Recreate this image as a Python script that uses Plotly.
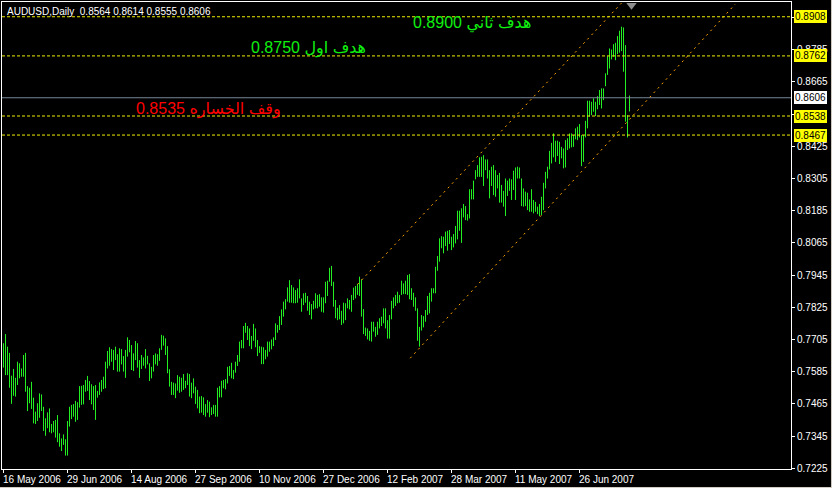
import plotly.graph_objects as go

# ---------------- data ----------------
bar_high = [
    0.7691, 0.7725, 0.7678, 0.7655, 0.7570, 0.7595, 0.7562, 0.7622, 0.7616, 0.7597,
    0.7647, 0.7655, 0.7531, 0.7525, 0.7547, 0.7488, 0.7436, 0.7467, 0.7504, 0.7500,
    0.7454, 0.7411, 0.7433, 0.7448, 0.7390, 0.7401, 0.7405, 0.7423, 0.7355, 0.7336,
    0.7351, 0.7333, 0.7401, 0.7454, 0.7461, 0.7464, 0.7476, 0.7471, 0.7531, 0.7532,
    0.7535, 0.7554, 0.7569, 0.7550, 0.7538, 0.7531, 0.7535, 0.7513, 0.7545, 0.7554,
    0.7566, 0.7622, 0.7662, 0.7676, 0.7669, 0.7666, 0.7678, 0.7650, 0.7672, 0.7669,
    0.7643, 0.7666, 0.7713, 0.7703, 0.7684, 0.7653, 0.7699, 0.7691, 0.7628, 0.7647,
    0.7638, 0.7669, 0.7644, 0.7616, 0.7603, 0.7647, 0.7653, 0.7650, 0.7672, 0.7722,
    0.7719, 0.7709, 0.7680, 0.7594, 0.7547, 0.7544, 0.7541, 0.7572, 0.7566, 0.7562,
    0.7576, 0.7551, 0.7579, 0.7576, 0.7544, 0.7560, 0.7529, 0.7517, 0.7492, 0.7494,
    0.7489, 0.7464, 0.7479, 0.7473, 0.7452, 0.7461, 0.7461, 0.7525, 0.7531, 0.7551,
    0.7554, 0.7557, 0.7603, 0.7606, 0.7618, 0.7591, 0.7622, 0.7647, 0.7697, 0.7703,
    0.7755, 0.7767, 0.7755, 0.7746, 0.7718, 0.7763, 0.7746, 0.7703, 0.7680, 0.7678,
    0.7676, 0.7666, 0.7697, 0.7697, 0.7705, 0.7713, 0.7765, 0.7759, 0.7792, 0.7817,
    0.7846, 0.7855, 0.7899, 0.7926, 0.7908, 0.7899, 0.7889, 0.7896, 0.7929, 0.7858,
    0.7877, 0.7879, 0.7867, 0.7846, 0.7837, 0.7849, 0.7877, 0.7871, 0.7874, 0.7862,
    0.7862, 0.7920, 0.7924, 0.7972, 0.7979, 0.7920, 0.7852, 0.7823, 0.7833, 0.7812,
    0.7842, 0.7840, 0.7858, 0.7852, 0.7871, 0.7898, 0.7904, 0.7912, 0.7939, 0.7929,
    0.7818, 0.7749, 0.7746, 0.7737, 0.7771, 0.7771, 0.7752, 0.7771, 0.7784, 0.7790,
    0.7821, 0.7821, 0.7777, 0.7796, 0.7849, 0.7862, 0.7871, 0.7883, 0.7871, 0.7924,
    0.7914, 0.7924, 0.7945, 0.7949, 0.7896, 0.7879, 0.7862, 0.7821, 0.7752, 0.7796,
    0.7792, 0.7815, 0.7867, 0.7879, 0.7896, 0.7896, 0.7976, 0.8016, 0.8082, 0.8090,
    0.8088, 0.8107, 0.8110, 0.8113, 0.8088, 0.8098, 0.8128, 0.8185, 0.8185, 0.8194,
    0.8210, 0.8202, 0.8172, 0.8265, 0.8265, 0.8297, 0.8336, 0.8355, 0.8384, 0.8386,
    0.8392, 0.8376, 0.8376, 0.8336, 0.8349, 0.8355, 0.8336, 0.8318, 0.8326, 0.8281,
    0.8259, 0.8305, 0.8297, 0.8305, 0.8302, 0.8334, 0.8346, 0.8349, 0.8346, 0.8305,
    0.8268, 0.8256, 0.8252, 0.8227, 0.8265, 0.8225, 0.8218, 0.8200, 0.8210, 0.8237,
    0.8289, 0.8330, 0.8349, 0.8408, 0.8438, 0.8473, 0.8446, 0.8446, 0.8442, 0.8423,
    0.8417, 0.8448, 0.8455, 0.8473, 0.8473, 0.8467, 0.8492, 0.8498, 0.8508, 0.8467,
    0.8467, 0.8520, 0.8595, 0.8595, 0.8591, 0.8604, 0.8591, 0.8612, 0.8635, 0.8641,
    0.8641, 0.8697, 0.8761, 0.8790, 0.8786, 0.8806, 0.8811, 0.8836, 0.8856, 0.8871,
    0.8868, 0.8802, 0.8541, 0.8614,
]
bar_low = [
    0.7600, 0.7572, 0.7572, 0.7525, 0.7465, 0.7495, 0.7492, 0.7535, 0.7560, 0.7566,
    0.7566, 0.7510, 0.7438, 0.7467, 0.7446, 0.7392, 0.7390, 0.7401, 0.7413, 0.7438,
    0.7364, 0.7346, 0.7374, 0.7359, 0.7355, 0.7359, 0.7339, 0.7322, 0.7305, 0.7289,
    0.7312, 0.7272, 0.7272, 0.7380, 0.7408, 0.7417, 0.7398, 0.7405, 0.7451, 0.7461,
    0.7463, 0.7510, 0.7513, 0.7479, 0.7463, 0.7442, 0.7405, 0.7488, 0.7498, 0.7510,
    0.7520, 0.7523, 0.7597, 0.7607, 0.7622, 0.7591, 0.7628, 0.7585, 0.7585, 0.7612,
    0.7585, 0.7562, 0.7641, 0.7657, 0.7591, 0.7587, 0.7628, 0.7600, 0.7562, 0.7595,
    0.7607, 0.7597, 0.7612, 0.7550, 0.7560, 0.7585, 0.7612, 0.7607, 0.7625, 0.7666,
    0.7682, 0.7647, 0.7579, 0.7529, 0.7498, 0.7498, 0.7486, 0.7514, 0.7506, 0.7510,
    0.7517, 0.7523, 0.7535, 0.7492, 0.7486, 0.7504, 0.7464, 0.7448, 0.7430, 0.7432,
    0.7423, 0.7417, 0.7432, 0.7415, 0.7423, 0.7427, 0.7417, 0.7417, 0.7489, 0.7489,
    0.7523, 0.7519, 0.7541, 0.7569, 0.7560, 0.7557, 0.7581, 0.7606, 0.7622, 0.7672,
    0.7672, 0.7730, 0.7703, 0.7680, 0.7669, 0.7700, 0.7676, 0.7643, 0.7655, 0.7613,
    0.7613, 0.7631, 0.7641, 0.7659, 0.7668, 0.7680, 0.7703, 0.7730, 0.7740, 0.7759,
    0.7790, 0.7817, 0.7846, 0.7842, 0.7842, 0.7840, 0.7840, 0.7842, 0.7858, 0.7808,
    0.7833, 0.7842, 0.7812, 0.7796, 0.7780, 0.7817, 0.7821, 0.7821, 0.7827, 0.7808,
    0.7805, 0.7840, 0.7867, 0.7920, 0.7904, 0.7827, 0.7784, 0.7777, 0.7780, 0.7759,
    0.7765, 0.7777, 0.7821, 0.7817, 0.7808, 0.7852, 0.7858, 0.7871, 0.7867, 0.7790,
    0.7725, 0.7718, 0.7705, 0.7700, 0.7697, 0.7734, 0.7715, 0.7722, 0.7746, 0.7755,
    0.7765, 0.7746, 0.7708, 0.7708, 0.7780, 0.7821, 0.7830, 0.7840, 0.7842, 0.7871,
    0.7874, 0.7874, 0.7871, 0.7855, 0.7852, 0.7827, 0.7812, 0.7700, 0.7678, 0.7738,
    0.7750, 0.7771, 0.7796, 0.7802, 0.7846, 0.7877, 0.7877, 0.7961, 0.7995, 0.8045,
    0.8026, 0.8053, 0.8036, 0.8061, 0.8038, 0.8048, 0.8063, 0.8078, 0.8110, 0.8065,
    0.8160, 0.8150, 0.8148, 0.8156, 0.8227, 0.8227, 0.8302, 0.8311, 0.8311, 0.8311,
    0.8277, 0.8336, 0.8305, 0.8231, 0.8277, 0.8243, 0.8237, 0.8268, 0.8215, 0.8215,
    0.8200, 0.8165, 0.8240, 0.8259, 0.8225, 0.8262, 0.8225, 0.8305, 0.8305, 0.8202,
    0.8200, 0.8202, 0.8187, 0.8181, 0.8181, 0.8175, 0.8181, 0.8172, 0.8165, 0.8169,
    0.8187, 0.8268, 0.8305, 0.8339, 0.8361, 0.8384, 0.8367, 0.8389, 0.8359, 0.8380,
    0.8343, 0.8346, 0.8411, 0.8417, 0.8421, 0.8423, 0.8451, 0.8448, 0.8458, 0.8351,
    0.8367, 0.8458, 0.8492, 0.8535, 0.8541, 0.8554, 0.8538, 0.8563, 0.8579, 0.8566,
    0.8597, 0.8649, 0.8691, 0.8715, 0.8749, 0.8759, 0.8746, 0.8769, 0.8774, 0.8780,
    0.8703, 0.8517, 0.8458, 0.8555,
]

date_tick_bars = [0, 32, 64, 96, 128, 160, 192, 224, 256, 288]
date_tick_labels = ["16 May 2006", "29 Jun 2006", "14 Aug 2006", "27 Sep 2006",
                    "10 Nov 2006", "27 Dec 2006", "12 Feb 2007", "28 Mar 2007",
                    "11 May 2007", "26 Jun 2007"]

price_ticks = [0.7225, 0.7345, 0.7465, 0.7585, 0.7705, 0.7825, 0.7945, 0.8065,
               0.8185, 0.8305, 0.8425, 0.8545, 0.8665, 0.8785, 0.8905]
# labels of 0.8545 and 0.8905 are hidden behind the level tags in the reference
price_tick_labels = ["0.7225", "0.7345", "0.7465", "0.7585", "0.7705", "0.7825",
                     "0.7945", "0.8065", "0.8185", "0.8305", "0.8425", "", "0.8665",
                     "0.8785", ""]

level_lines = [0.8908, 0.8762, 0.8538, 0.8467]     # yellow dashed levels
bid_price = 0.8606                                   # current price line

channel_upper_x = [177.0, 309.0]
channel_upper_y = [0.7910, 0.8959]
channel_lower_x = [203.35, 365.85]
channel_lower_y = [0.7635, 0.8955]

title_text = "AUDUSD,Daily  0.8564 0.8614 0.8555 0.8606"

text_labels = [
    {"text": "0.8900 هدف ثاني", "x": 234.1, "y": 0.8884, "color": "#10f010"},
    {"text": "0.8750 هدف اول", "x": 152.3, "y": 0.8791, "color": "#10f010"},
    {"text": "0.8535 وقف الخساره", "x": 102.6, "y": 0.8564, "color": "#ff0000"},
]

shift_marker_bar = 314
shift_marker_price = 0.8951

# ---------------- figure ----------------
assert len(bar_high) == len(bar_low)
xs, ys = [], []
for i, (h, l) in enumerate(zip(bar_high, bar_low)):
    xs += [i, i, None]
    ys += [l, h, None]

fig = go.Figure()

fig.add_trace(go.Scatter(x=xs, y=ys, mode="lines",
                         line=dict(color="#22ee22", width=1),
                         hoverinfo="skip", showlegend=False))

fig.add_trace(go.Scatter(x=channel_upper_x, y=channel_upper_y, mode="lines",
                         line=dict(color="#ffa500", width=1, dash="2px,4px"),
                         hoverinfo="skip", showlegend=False))
fig.add_trace(go.Scatter(x=channel_lower_x, y=channel_lower_y, mode="lines",
                         line=dict(color="#ffa500", width=1, dash="2px,4px"),
                         hoverinfo="skip", showlegend=False))

fig.add_trace(go.Scatter(x=[shift_marker_bar], y=[shift_marker_price], mode="markers",
                         marker=dict(symbol="triangle-down", size=9, color="#8c8c8c"),
                         cliponaxis=False, hoverinfo="skip", showlegend=False))

shapes = []
for lv in level_lines:
    shapes.append(dict(type="line", xref="paper", x0=0, x1=1, yref="y", y0=lv, y1=lv,
                       line=dict(color="#f0f000", width=1, dash="3px,2px")))
shapes.append(dict(type="line", xref="paper", x0=0, x1=1, yref="y", y0=bid_price, y1=bid_price,
                   line=dict(color="#778899", width=1)))
# window frame at bottom / right
shapes.append(dict(type="line", xref="paper", yref="paper", x0=-0.01, x1=1.06,
                   y0=-0.0396, y1=-0.0396, line=dict(color="#d4d0c8", width=1)))
shapes.append(dict(type="line", xref="paper", yref="paper", x0=1.0513, x1=1.0513,
                   y0=-0.05, y1=1.01, line=dict(color="#d4d0c8", width=1)))

annotations = []
small_font = dict(family="Liberation Sans, Arial, sans-serif", size=10, color="white")
for b, lab in zip(date_tick_bars, date_tick_labels):
    annotations.append(dict(x=b, xref="x", y=0, yref="paper", text=lab, showarrow=False,
                            xanchor="left", yanchor="top", xshift=-3, yshift=-3,
                            font=small_font))
annotations.append(dict(x=0, xref="paper", y=1, yref="paper", text=title_text,
                        showarrow=False, xanchor="left", yanchor="top", xshift=3, yshift=-2,
                        font=small_font))
for lv in level_lines:
    annotations.append(dict(x=1, xref="paper", y=lv, yref="y", text=f"{lv:.4f}",
                            showarrow=False, xanchor="left", yanchor="middle", xshift=3,
                            bgcolor="#ffff00", borderpad=1, borderwidth=0,
                            font=dict(family="Liberation Sans, Arial, sans-serif", size=10,
                                      color="black")))
annotations.append(dict(x=1, xref="paper", y=bid_price, yref="y", text=f"{bid_price:.4f}",
                        showarrow=False, xanchor="left", yanchor="middle", xshift=3,
                        bgcolor="#ffffff", borderpad=1, borderwidth=0,
                        font=dict(family="Liberation Sans, Arial, sans-serif", size=10,
                                  color="black")))
for t in text_labels:
    annotations.append(dict(x=t["x"], xref="x", y=t["y"], yref="y", text=t["text"],
                            showarrow=False, xanchor="center", yanchor="middle",
                            font=dict(family="Liberation Sans, DejaVu Sans, sans-serif",
                                      size=16, color=t["color"])))

fig.update_layout(
    width=832, height=488,
    margin=dict(l=2, r=41, t=2, b=19, autoexpand=False),
    paper_bgcolor="black", plot_bgcolor="black",
    showlegend=False,
    shapes=shapes, annotations=annotations,
    xaxis=dict(range=[-0.75, 393.75], showgrid=False, zeroline=False,
               showline=True, linecolor="white", linewidth=1, mirror=True,
               tickmode="array", tickvals=date_tick_bars, ticks="outside",
               ticklen=3, tickcolor="white", showticklabels=False, fixedrange=True),
    yaxis=dict(range=[0.7222, 0.8963], side="right", showgrid=False, zeroline=False,
               showline=True, linecolor="white", linewidth=1, mirror=True,
               tickmode="array", tickvals=price_ticks, ticktext=price_tick_labels,
               ticks="outside", ticklen=3, tickcolor="white",
               tickfont=dict(family="Liberation Sans, Arial, sans-serif", size=10, color="white"),
               fixedrange=True),
)

fig.write_html("out.html", config={"displayModeBar": False},
               post_script="document.body.style.margin='0px';"
                           "document.body.style.overflow='hidden';"
                           "document.body.style.background='black';")
